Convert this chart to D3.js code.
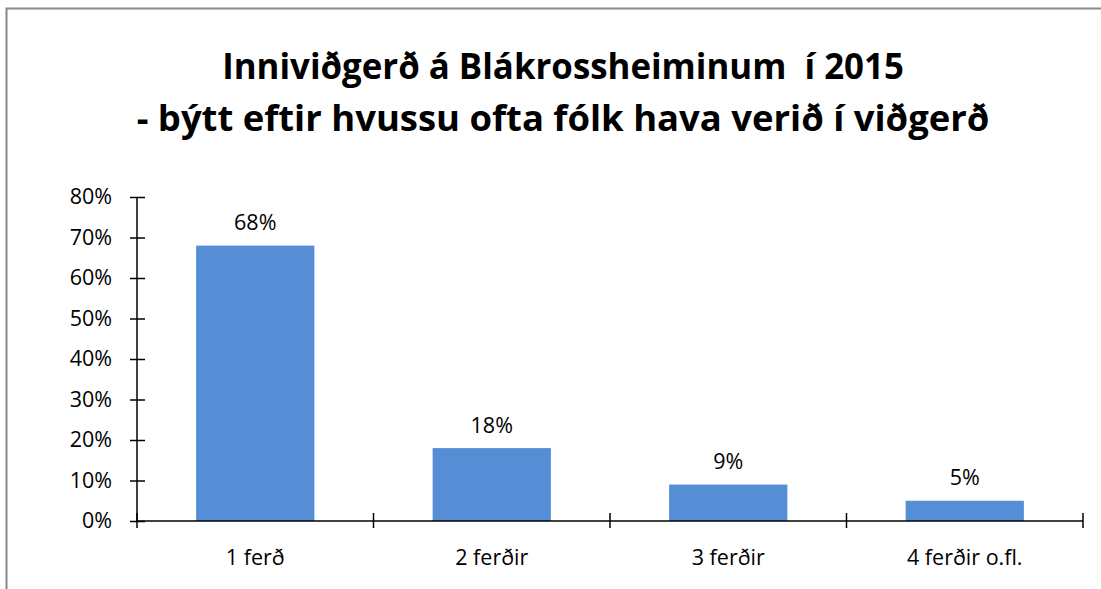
<!DOCTYPE html>
<meta charset="utf-8">
<style>
body { margin: 0; background: #fff; }
text { font-family: "Open Sans", "Noto Sans", sans-serif; fill: #000; }
.title { font-weight: bold; white-space: pre; }
.axis path, .axis line { stroke: #000; stroke-width: 1.5px; }
</style>
<body>
<script src="https://cdn.jsdelivr.net/npm/d3@7/dist/d3.min.js"></script>
<script>
var categories = ["1 ferð", "2 ferðir", "3 ferðir", "4 ferðir o.fl."];
var values = [68, 18, 9, 5];
var yTicks = [0, 10, 20, 30, 40, 50, 60, 70, 80];
var titleLines = ["Inniviðgerð á Blákrossheiminum  í 2015", "- býtt eftir hvussu ofta fólk hava verið í viðgerð"];

var width = 1101, height = 589;
var svg = d3.select("body").append("svg")
    .attr("width", width)
    .attr("height", height);

// outer frame (only left and top edges visible)
svg.append("path")
    .attr("d", "M6.5," + height + "V8.5H" + width)
    .attr("fill", "none")
    .attr("stroke", "#888")
    .attr("stroke-width", 2);

var x0 = 137, x1 = 1083, y0 = 521, y1 = 197;
var fs = "21.5px";

var x = d3.scaleBand().domain(categories).range([x0, x1]).paddingInner(0.5).paddingOuter(0.25);
var xb = d3.scaleBand().domain(categories).range([x0, x1]);
var y = d3.scaleLinear().domain([0, 80]).range([y0, y1]);

// title, fitted to width of the reference lines
var titleY = [65, 117], titleW = [682, 853];
titleLines.forEach(function(t, i) {
  var el = svg.append("text").attr("class", "title")
      .attr("x", 563).attr("y", titleY[i])
      .attr("text-anchor", "middle").attr("dominant-baseline", "central")
      .style("font-size", "30px").text(t);
  var w = el.node().getComputedTextLength();
  el.style("font-size", (30 * titleW[i] / w) + "px");
});

// bars
svg.append("g").selectAll("rect")
    .data(values)
  .enter().append("rect")
    .attr("x", function(d, i) { return x(categories[i]); })
    .attr("width", x.bandwidth())
    .attr("y", function(d) { return y(d); })
    .attr("height", function(d) { return y0 - y(d); })
    .attr("fill", "#558ed5");

// value labels
svg.append("g").selectAll("text")
    .data(values)
  .enter().append("text")
    .attr("x", function(d, i) { return x(categories[i]) + x.bandwidth() / 2; })
    .attr("y", function(d) { return y(d) - 24; })
    .attr("text-anchor", "middle").attr("dominant-baseline", "central")
    .style("font-size", fs)
    .text(function(d) { return d + "%"; });

// y axis
var yAxis = svg.append("g").attr("class", "axis")
    .attr("transform", "translate(" + x0 + ",0)")
    .call(d3.axisLeft(y).tickValues(yTicks).tickSize(0).tickPadding(25)
      .tickFormat(function(d) { return d + "%"; }));
yAxis.select(".domain").remove();
yAxis.append("line").attr("x1", 0).attr("x2", 0).attr("y1", y1).attr("y2", y0);
yAxis.selectAll(".tick").append("line").attr("x1", -7).attr("x2", 8);
yAxis.selectAll(".tick text").style("font-size", fs).attr("fill", "#000");

// x axis
var xAxis = svg.append("g").attr("class", "axis")
    .attr("transform", "translate(0," + y0 + ")");
xAxis.append("line").attr("x1", x0).attr("x2", x1);
var bounds = categories.map(function(c) { return xb(c); }).concat([x1]);
xAxis.selectAll(".xt").data(bounds).enter().append("line")
    .attr("x1", function(d) { return d; }).attr("x2", function(d) { return d; })
    .attr("y1", -8).attr("y2", 7);
xAxis.selectAll(".xl").data(categories).enter().append("text")
    .attr("x", function(d) { return xb(d) + xb.bandwidth() / 2; })
    .attr("y", 35)
    .attr("text-anchor", "middle").attr("dominant-baseline", "central")
    .style("font-size", fs)
    .text(function(d) { return d; });
</script>
</body>
